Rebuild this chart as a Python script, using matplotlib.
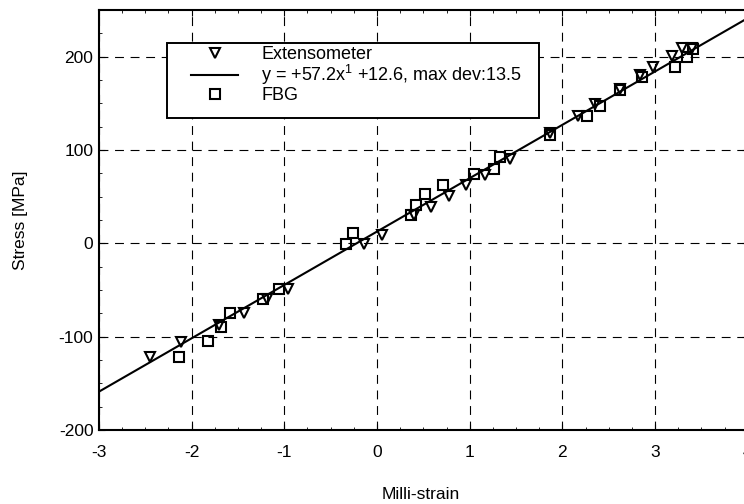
import numpy as np
import matplotlib.pyplot as plt
from matplotlib.ticker import MultipleLocator
from matplotlib.patches import Rectangle

plt.rcParams['font.family'] = ['Liberation Sans', 'DejaVu Sans']
plt.rcParams['mathtext.default'] = 'regular'
plt.rcParams['axes.unicode_minus'] = False

# Extensometer readings (milli-strain, MPa)
ext_x = [-2.45, -2.11, -1.71, -1.44, -1.19, -0.96, -0.14, 0.05, 0.40, 0.58,
         0.78, 0.96, 1.17, 1.44, 1.87, 2.17, 2.35, 2.62, 2.84, 2.98, 3.18,
         3.29, 3.40]
ext_y = [-122, -106, -88, -75, -60, -49, -1, 9, 30, 39,
         51, 62, 73, 90, 118, 137, 149, 165, 180, 189, 201,
         209, 209]

# FBG readings
fbg_x = [-2.14, -1.82, -1.68, -1.59, -1.23, -1.06, -0.33, -0.26, 0.37, 0.42,
         0.52, 0.71, 1.05, 1.26, 1.33, 1.87, 2.27, 2.41, 2.62, 2.86, 3.22,
         3.35, 3.41]
fbg_y = [-122, -105, -90, -75, -60, -49, -1, 11, 30, 41,
         53, 63, 74, 80, 92, 116, 136, 147, 164, 178, 189,
         200, 208]

slope = 57.2
icpt = 12.6

fig = plt.figure(figsize=(7.44, 5.04), dpi=100)
ax = fig.add_axes([0.133, 0.147, 0.872, 0.833])

xs = np.array([-3, 4])
ax.plot(ext_x, ext_y, 'v', mfc='none', mec='k', ms=7, mew=1.5, label='Extensometer')
ax.plot(xs, slope * xs + icpt, 'k-', lw=1.5,
        label='y = +57.2x$^{1}$ +12.6, max dev:13.5')
ax.plot(fbg_x, fbg_y, 's', mfc='none', mec='k', ms=7, mew=1.5, label='FBG')

ax.set_xlim(-3, 4)
ax.set_ylim(-200, 250)
ax.set_xticks(range(-3, 5))
ax.set_yticks(range(-200, 201, 100))
ax.xaxis.set_minor_locator(MultipleLocator(0.25))
ax.yaxis.set_minor_locator(MultipleLocator(25))
ax.tick_params(which='both', direction='in', top=True, right=True, labelsize=12.5)
ax.tick_params(which='major', length=4)
ax.tick_params(which='minor', length=2)
ax.tick_params(axis='x', pad=11)
ax.tick_params(axis='y', pad=4)
ax.grid(True, which='major', ls=(0, (8, 6)), color='k', lw=0.8)
for s in ax.spines.values():
    s.set_linewidth(1.5)

ax.set_xlabel('Milli-strain', fontsize=12.5)
ax.set_ylabel('Stress [MPa]', fontsize=12.5)
ax.xaxis.set_label_coords(0.496, -0.136)
ax.yaxis.set_label_coords(-0.109, 0.50)

# legend box
ax.add_patch(Rectangle((0.105, 0.743), 0.573, 0.178, transform=ax.transAxes,
                       facecolor='white', edgecolor='k', lw=1.4, zorder=4))
leg = ax.legend(loc='upper left', bbox_to_anchor=(0.142, 0.914), fontsize=13,
                handlelength=2.6, handletextpad=1.3, labelspacing=0,
                borderpad=0, borderaxespad=0, frameon=False)
leg.set_zorder(5)

fig.savefig('out.png', dpi=100)
